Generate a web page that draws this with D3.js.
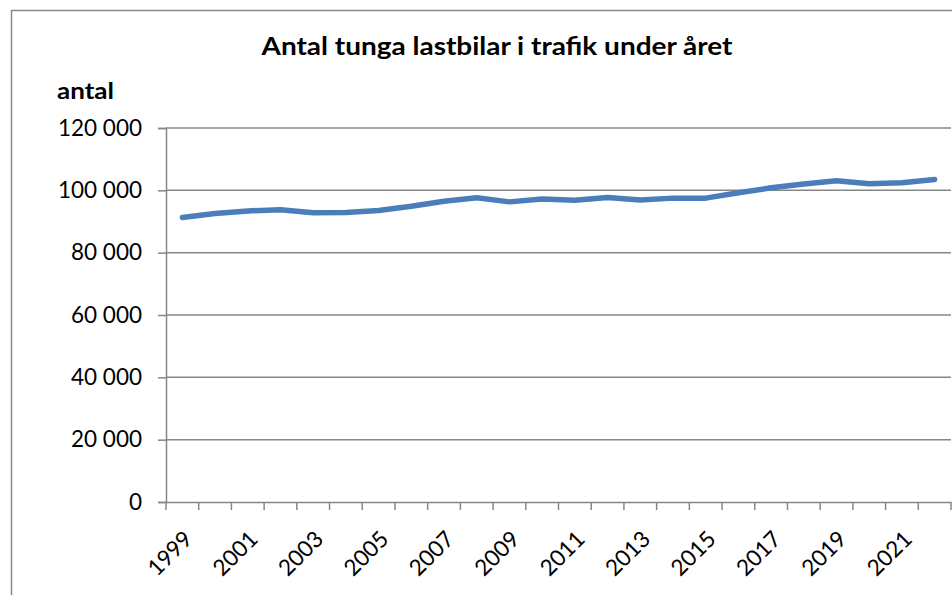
<!DOCTYPE html>
<html><head><meta charset="utf-8">
<script src="https://cdn.jsdelivr.net/npm/d3@7/dist/d3.min.js"></script>
<style>html,body{margin:0;padding:0;background:#fff}svg{display:block}</style>
</head><body>
<svg id="c" width="952" height="595"></svg>
<script>
const years = ["1999","2000","2001","2002","2003","2004","2005","2006","2007","2008","2009","2010","2011","2012","2013","2014","2015","2016","2017","2018","2019","2020","2021","2022"];
const values = [91300,92600,93400,93800,92800,92900,93500,94900,96500,97600,96300,97200,96800,97700,96900,97500,97500,99200,100800,102000,103100,102100,102400,103500];
const yTicks = [0,20000,40000,60000,80000,100000,120000];
const labelYears = years.filter((d,i)=>i%2===0);
const title = "Antal tunga lastbilar i trafik under året";
const yTitle = "antal";

const svg = d3.select("#c");
const font = "Lato, 'Liberation Sans', sans-serif";
const m = {left:166, right:951, top:128, bottom:502};

svg.append("rect").attr("x",11.5).attr("y",10.5).attr("width",960).attr("height",600)
  .attr("fill","#fff").attr("stroke","#8a8a8a").attr("stroke-width",1.5);

const x = d3.scaleBand().domain(years).range([m.left,m.right]).padding(0);
const y = d3.scaleLinear().domain([0,120000]).range([m.bottom,m.top]);
const fmt = v => d3.format(",")(v).replace(/,/g," ");

// gridlines
svg.append("g").selectAll("line").data(yTicks.filter(d=>d>0)).join("line")
  .attr("x1",m.left).attr("x2",m.right).attr("y1",d=>y(d)).attr("y2",d=>y(d))
  .attr("stroke","#868686").attr("stroke-width",1.5);

// y axis
const ya = svg.append("g").attr("transform",`translate(${m.left},0)`)
  .call(d3.axisLeft(y).tickValues(yTicks).tickSize(8).tickPadding(16).tickFormat(fmt));
ya.select(".domain").attr("stroke","#868686").attr("stroke-width",1.5);
ya.selectAll(".tick line").attr("stroke","#868686").attr("stroke-width",1.5);
ya.selectAll(".tick text").attr("font-family",font).attr("font-size",22.5).attr("fill","#000");

// x axis
const xa = svg.append("g").attr("transform",`translate(0,${m.bottom})`)
  .call(d3.axisBottom(x).tickValues([]).tickSize(0));
xa.select(".domain").attr("stroke","#868686").attr("stroke-width",1.5);
xa.selectAll("line.tk").data(years.concat(["end"])).join("line").attr("class","tk")
  .attr("x1",(d,i)=>m.left + i*x.bandwidth()).attr("x2",(d,i)=>m.left + i*x.bandwidth())
  .attr("y1",0).attr("y2",8).attr("stroke","#868686").attr("stroke-width",1.5);
xa.selectAll("text.lb").data(labelYears).join("text").attr("class","lb")
  .attr("transform",d=>`translate(${x(d)+x.bandwidth()/2},${27}) rotate(-45)`)
  .attr("text-anchor","end").attr("dy","0.72em")
  .attr("font-family",font).attr("font-size",22.5).attr("fill","#000").text(d=>d);

// line
svg.append("path").datum(values)
  .attr("fill","none").attr("stroke","#4A7EBB").attr("stroke-width",5.5).attr("stroke-linecap","round").attr("stroke-linejoin","round")
  .attr("d",d3.line().x((d,i)=>x(years[i])+x.bandwidth()/2).y(d=>y(d)));

// titles
svg.append("text").attr("x",497).attr("y",55).attr("text-anchor","middle")
  .attr("font-family",font).attr("font-weight","bold").attr("font-size",24).attr("fill","#000")
  .attr("textLength",471).attr("lengthAdjust","spacingAndGlyphs").text(title);
svg.append("text").attr("x",57).attr("y",99)
  .attr("font-family",font).attr("font-weight","bold").attr("font-size",23).attr("fill","#000")
  .attr("textLength",57).attr("lengthAdjust","spacingAndGlyphs").text(yTitle);
</script>
</body></html>
